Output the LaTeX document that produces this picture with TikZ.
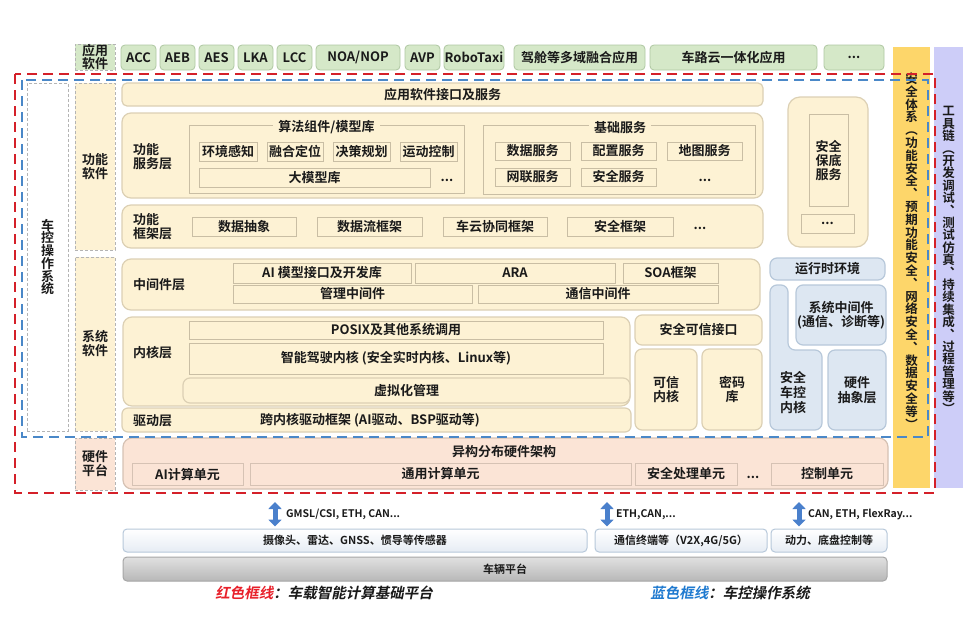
\documentclass[tikz,border=0pt]{standalone}
\usepackage{fontspec}
\setmainfont{Noto Sans CJK SC}[BoldFont={Noto Sans CJK SC Bold}]
\newfontfamily\slnt{Noto Sans CJK SC Bold}[FakeSlant=0.2]
\usepackage{xcolor}
\usetikzlibrary{arrows.meta}
\definecolor{ink}{HTML}{1A1A1A}
\definecolor{appfill}{HTML}{D5E8C8}
\definecolor{appline}{HTML}{AFC7A2}
\definecolor{lblline}{HTML}{B4B4B4}
\definecolor{layfill}{HTML}{FDF2D4}
\definecolor{layline}{HTML}{DCD0B4}
\definecolor{boxline}{HTML}{C9BEA4}
\definecolor{bfill}{HTML}{DDE7F2}
\definecolor{bline}{HTML}{B7C8DA}
\definecolor{hwfill}{HTML}{FBE4D6}
\definecolor{hwline}{HTML}{D6C2B4}
\definecolor{devfill}{HTML}{E6ECF4}
\definecolor{safefill}{HTML}{FDD66A}
\definecolor{toolfill}{HTML}{CDCDF8}
\definecolor{framered}{HTML}{D42029}
\definecolor{frameblue}{HTML}{4A88C8}
\definecolor{arrowblue}{HTML}{4A80CC}
\definecolor{legred}{HTML}{E8202A}
\definecolor{legblue}{HTML}{1F7AD0}

\begin{document}
\begin{tikzpicture}[x=1pt, y=-1pt,
    every node/.style={font=\fontsize{13}{14}\selectfont\bfseries, text=ink, inner sep=0pt},
    appbox/.style={draw=appline, fill=appfill, rounded corners=4pt, line width=0.8pt, minimum height=25pt},
    lbl/.style={draw=lblline, dash pattern=on 3pt off 2pt, line width=0.8pt, minimum width=40pt, align=center},
    lyrbox/.style={draw=layline, fill=layfill, rounded corners=9pt, line width=1.2pt},
    cbox/.style={draw=boxline, fill=layfill, line width=0.9pt, minimum height=19pt},
    grp/.style={draw=boxline, line width=0.9pt},
    ttl/.style={fill=layfill, inner xsep=5pt, inner ysep=1pt},
    laylbl/.style={anchor=west, align=left},
    pill/.style={draw=layline, fill=layfill, rounded corners=7pt, line width=1.2pt, align=center},
    bluebox/.style={draw=bline, fill=bfill, rounded corners=7pt, line width=1.2pt, align=center},
    hwunit/.style={draw=hwline, fill=hwfill, line width=0.9pt, minimum height=22pt},
    devbox/.style={draw=bline, top color=white, bottom color=devfill, rounded corners=4pt, line width=1pt,
                   minimum height=23pt, font=\fontsize{11}{13}\selectfont\bfseries},
    vtxt/.style={align=center, font=\fontsize{12.5}{12.8}\selectfont\bfseries},
    busarrow/.style={{Triangle[width=13pt,length=7pt]}-{Triangle[width=13pt,length=7pt]}, line width=5pt, draw=arrowblue},
    buslbl/.style={anchor=west, font=\fontsize{10.5}{12}\selectfont\bfseries},
    redframe/.style={draw=framered, line width=2.5pt, dash pattern=on 10pt off 6pt},
    blueframe/.style={draw=frameblue, line width=2pt, dash pattern=on 10pt off 6pt}]
  \fill[white] (0,0) rectangle (976,616);
  \useasboundingbox (0,0) rectangle (976,616);

  % application row
  \node[lbl, fill=appfill, minimum height=26pt, font=\fontsize{13}{13}\selectfont\bfseries] (applbl) at (95,57) {应用\\软件};
  \node[appbox, minimum width=35pt] (acc) at (138.5,57.5) {ACC};
  \node[appbox, minimum width=35pt] (aeb) at (177.5,57.5) {AEB};
  \node[appbox, minimum width=35pt] (aes) at (216.5,57.5) {AES};
  \node[appbox, minimum width=35pt] (lka) at (255.5,57.5) {LKA};
  \node[appbox, minimum width=35pt] (lcc) at (294.5,57.5) {LCC};
  \node[appbox, minimum width=84pt] (noa) at (358,57.5) {NOA/NOP};
  \node[appbox, minimum width=35pt] (avp) at (422.5,57.5) {AVP};
  \node[appbox, minimum width=60pt] (robo) at (474,57.5) {RoboTaxi};
  \node[appbox, minimum width=131pt] (cabin) at (579.5,57.5) {驾舱等多域融合应用};
  \node[appbox, minimum width=167pt] (v2c) at (733.5,57.5) {车路云一体化应用};
  \node[appbox, minimum width=60pt] (appmore) at (854,57.5) {...};

  % side bars
  \node[fill=safefill, minimum width=37pt, minimum height=441pt] (safebar) at (911.5,267.5) {};
  \node[vtxt] (safetxt) at (911.5,251) {安\\全\\体\\系\\︵\\功\\能\\安\\全\\︑\\预\\期\\功\\能\\安\\全\\︑\\网\\络\\安\\全\\︑\\数\\据\\安\\全\\等\\︶};
  \node[fill=toolfill, minimum width=29pt, minimum height=441pt] (toolbar) at (948.5,267.5) {};
  \node[vtxt, font=\fontsize{12.5}{12.4}\selectfont\bfseries] (tooltxt) at (948.5,260) {工\\具\\链\\︵\\开\\发\\调\\试\\︑\\测\\试\\仿\\真\\︑\\持\\续\\集\\成\\︑\\过\\程\\管\\理\\等\\︶};

  % left labels
  \node[lbl, fill=white, minimum width=41pt, minimum height=348pt, font=\fontsize{13}{12.7}\selectfont\bfseries] (osbox) at (47.5,257) {车\\控\\操\\作\\系\\统};
  \node[lbl, fill=layfill, minimum height=167pt] (funclbl) at (95,166.5) {功能\\软件};
  \node[lbl, fill=layfill, minimum height=174pt] (syslbl) at (95,344) {系统\\软件};
  \node[lbl, fill=hwfill, minimum height=52pt] (hwlbl) at (95,464) {硬件\\平台};

  % functional software
  \node[lyrbox, rounded corners=5pt, minimum width=641pt, minimum height=23pt] (api) at (442.5,94.5) {应用软件接口及服务};
  \node[lyrbox, minimum width=641pt, minimum height=85pt] (fsvc) at (442.5,155.5) {};
  \node[laylbl] (fsvclbl) at (133,157) {功能\\服务层};
  \node[grp, minimum width=275pt, minimum height=68pt] (algo) at (326.5,159) {};
  \node[ttl] (algottl) at (326.5,127.5) {算法组件/模型库};
  \node[cbox, minimum width=58pt] (perc) at (228,151.5) {环境感知};
  \node[cbox, minimum width=56pt] (loc) at (295,151.5) {融合定位};
  \node[cbox, minimum width=57pt] (plan) at (361.5,151.5) {决策规划};
  \node[cbox, minimum width=57pt] (ctrl) at (428.5,151.5) {运动控制};
  \node[cbox, minimum width=231pt] (llm) at (314.5,177.5) {大模型库};
  \node (algomore) at (447,180) {...};
  \node[grp, minimum width=272pt, minimum height=69pt] (basic) at (619,159.5) {};
  \node[ttl] (basicttl) at (620,127.5) {基础服务};
  \node[cbox, minimum width=75pt, minimum height=18pt] (data) at (532.5,151) {数据服务};
  \node[cbox, minimum width=75pt, minimum height=18pt] (conf) at (618.5,151) {配置服务};
  \node[cbox, minimum width=75pt, minimum height=18pt] (map) at (704.5,151) {地图服务};
  \node[cbox, minimum width=75pt, minimum height=18pt] (net) at (532.5,177) {网联服务};
  \node[cbox, minimum width=75pt, minimum height=18pt] (sec) at (618.5,177) {安全服务};
  \node (basicmore) at (705,180) {...};
  \node[lyrbox, minimum width=641pt, minimum height=43pt] (ffw) at (442.5,226.5) {};
  \node[laylbl] (ffwlbl) at (133,227) {功能\\框架层};
  \node[cbox, minimum width=104pt] (abst) at (244,226.5) {数据抽象};
  \node[cbox, minimum width=105pt] (flow) at (369.5,226.5) {数据流框架};
  \node[cbox, minimum width=104pt] (cloud) at (495,226.5) {车云协同框架};
  \node[cbox, minimum width=106pt] (safefw) at (620,226.5) {安全框架};
  \node (ffwmore) at (700,228) {...};
  \node[lyrbox, rounded corners=12pt, minimum width=80pt, minimum height=150pt] (guard) at (828,172) {};
  \node[cbox, minimum width=39pt, minimum height=92pt] (guardbox) at (828.5,160) {};
  \node[align=center] (guardtxt) at (828.5,161) {安全\\保底\\服务};
  \node[cbox, minimum width=53pt] (guardmore) at (827.5,223.5) {...};

  % system software
  \node[lyrbox, minimum width=638pt, minimum height=51pt] (mw) at (441,284.5) {};
  \node[laylbl] (mwlbl) at (133,285) {中间件层};
  \node[cbox, minimum width=178pt, minimum height=20pt] (aisdk) at (322,273) {AI 模型接口及开发库};
  \node[cbox, minimum width=200pt, minimum height=20pt] (ara) at (515,273) {ARA};
  \node[cbox, minimum width=95pt, minimum height=20pt] (soa) at (670.5,273) {SOA框架};
  \node[cbox, minimum width=239pt, minimum height=18pt] (mgmt) at (352.5,294) {管理中间件};
  \node[cbox, minimum width=240pt, minimum height=18pt] (comm) at (598,294) {通信中间件};
  \node[lyrbox, minimum width=507pt, minimum height=89pt] (kern) at (376.5,361.5) {};
  \node[laylbl] (kernlbl) at (133,353) {内核层};
  \node[cbox, minimum width=414pt, minimum height=18pt] (posix) at (396,330) {POSIX及其他系统调用};
  \node[cbox, minimum width=414pt, minimum height=31pt] (adk) at (396,358.5) {智能驾驶内核 (安全实时内核、Linux等)};
  \node[pill, minimum width=447pt, minimum height=25pt] (virt) at (406.5,390.5) {虚拟化管理};
  \node[lyrbox, rounded corners=6pt, minimum width=509pt, minimum height=24pt] (drv) at (376.5,420) {};
  \node[laylbl] (drvlbl) at (133,421) {驱动层};
  \node (drvtxt) at (370,420.5) {跨内核驱动框架 (AI驱动、BSP驱动等)};
  \node[pill, minimum width=127pt, minimum height=30pt] (tee) at (698.5,330) {安全可信接口};
  \node[pill, minimum width=62pt, minimum height=81pt] (tcore) at (666,389.5) {可信\\内核};
  \node[pill, minimum width=60pt, minimum height=81pt] (crypto) at (732,389.5) {密码\\库};
  \node[bluebox, minimum width=115pt, minimum height=22pt] (rte) at (827.5,269) {运行时环境};
  \draw[draw=bline, fill=bfill, line width=1.2pt, rounded corners=7pt]
    (770,285) -- (788,285) -- (788,350) -- (822,350) -- (822,430) -- (770,430) -- cycle;
  \node[align=center, font=\fontsize{13}{15}\selectfont\bfseries] (vcu) at (793,393) {安全\\车控\\内核};
  \node[bluebox, minimum width=90pt, minimum height=60pt] (sysmw) at (841,315) {系统中间件\\(通信、诊断等)};
  \node[bluebox, minimum width=58pt, minimum height=80pt, font=\fontsize{13}{15}\selectfont\bfseries] (hal) at (857,390) {硬件\\抽象层};

  % hardware platform
  \node[draw=hwline, fill=hwfill, rounded corners=9pt, line width=1.2pt, minimum width=765pt, minimum height=51pt] (hw) at (505.5,463.5) {};
  \node (hwttl) at (504,452) {异构分布硬件架构};
  \node[hwunit, minimum width=111pt] (aiu) at (187.5,474) {AI计算单元};
  \node[hwunit, minimum width=381pt] (cpu) at (440.5,474) {通用计算单元};
  \node[hwunit, minimum width=102pt] (spu) at (686,474) {安全处理单元};
  \node (hwmore) at (753,477) {...};
  \node[hwunit, minimum width=112pt] (mcu) at (827,474) {控制单元};

  % vehicle side
  \node[devbox, minimum width=464pt] (sensor) at (355,540.5) {摄像头、雷达、GNSS、惯导等传感器};
  \node[devbox, minimum width=172pt] (tbox) at (681,540.5) {通信终端等（V2X,4G/5G）};
  \node[devbox, minimum width=116pt] (chassis) at (829,540.5) {动力、底盘控制等};
  \node[draw=black!35, top color=black!12, bottom color=black!28, rounded corners=4pt, line width=1pt,
        minimum width=764pt, minimum height=24pt, font=\fontsize{11}{13}\selectfont\bfseries] (vehicle) at (505,569) {车辆平台};
  \coordinate (bus1) at (275,502);
  \coordinate (bus2) at (607,502);
  \coordinate (bus3) at (799,502);
  \draw[busarrow, shorten >=2pt] (bus1) -- (bus1 |- sensor.north);
  \draw[busarrow, shorten >=2pt] (bus2) -- (bus2 |- tbox.north);
  \draw[busarrow, shorten >=2pt] (bus3) -- (bus3 |- chassis.north);
  \node[buslbl] (bus1lbl) at (286,514.5) {GMSL/CSI, ETH, CAN...};
  \node[buslbl] (bus2lbl) at (616,514.5) {ETH,CAN,...};
  \node[buslbl] (bus3lbl) at (808,514.5) {CAN, ETH, FlexRay...};

  % frames
  \draw[redframe] (15,74) rectangle (935,493);
  \draw[blueframe] (22,80) rectangle (928,437);

  % legend
  \node[font=\fontsize{14.5}{16}\slnt] (legr) at (324,593) {\textcolor{legred}{红色框线}：车载智能计算基础平台};
  \node[font=\fontsize{14.5}{16}\slnt] (legb) at (730,593) {\textcolor{legblue}{蓝色框线}：车控操作系统};
\end{tikzpicture}
\end{document}
